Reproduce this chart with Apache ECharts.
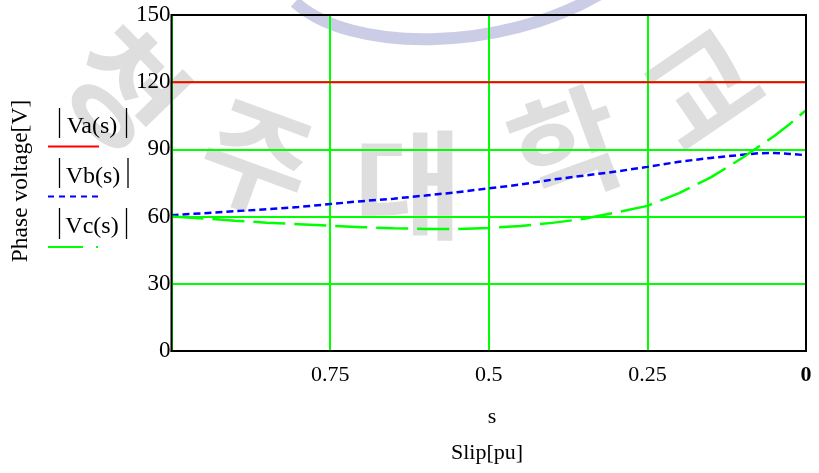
<!DOCTYPE html>
<html><head><meta charset="utf-8">
<script src="https://cdn.jsdelivr.net/npm/echarts@6/dist/echarts.min.js"></script>
<style>html,body{margin:0;padding:0;background:#fff}#c{width:819px;height:473px}</style>
</head><body><div id="c"></div>
<script>
const slip = [1, 0.95, 0.9, 0.85, 0.8, 0.75, 0.7, 0.65, 0.6, 0.55, 0.5, 0.45, 0.4, 0.35, 0.3, 0.25, 0.2, 0.15, 0.1, 0.075, 0.05, 0.025, 0];
const vaVals = [120,120,120,120,120,120,120,120,120,120,120,120,120,120,120,120,120,120,120,120,120,120,120];
const vbVals = [60.6, 61.5, 62.4, 63.3, 64.3, 65.6, 66.9, 68.0, 69.4, 70.9, 72.6, 74.3, 76.5, 78.3, 80.1, 82.2, 84.5, 86.2, 87.6, 88.3, 88.4, 88.0, 87.4];
const vcVals = [60.0, 59.2, 58.2, 57.3, 56.6, 55.9, 55.3, 54.8, 54.5, 54.5, 54.9, 55.8, 57.2, 59.0, 61.8, 64.8, 70.5, 77.5, 86.3, 91.2, 96.0, 101.5, 107.5];
const yTicks = [0, 30, 60, 90, 120, 150];
const xTicks = [1, 0.75, 0.5, 0.25, 0];
const seriesNames = ['Va(s)', 'Vb(s)', 'Vc(s)'];

const pairs = v => slip.map((s, i) => [s, v[i]]);
const serif = '"Liberation Serif", "DejaVu Serif", serif';
const green = '#00ff00';

const chart = echarts.init(document.getElementById('c'));
const wm = (t, x, y, r, s) => ({type:'text', x:x, y:y, rotation:r, z:-10, silent:true,
  style:{text:t, font:'bold '+s+'px "Noto Sans CJK KR"', fill:'rgba(0,0,0,0.13)', align:'center', verticalAlign:'middle'}});
const bar = (x, y1, y2) => ({type:'line', shape:{x1:x, y1:y1, x2:x, y2:y2}, z:5, style:{stroke:'#000', lineWidth:1.3}});
const lbl = (t, x, y) => ({type:'text', x:x, y:y, z:5, style:{text:t, font:'24px '+serif, fill:'#000', align:'center', verticalAlign:'middle'}});
chart.setOption({
  animation:false,
  backgroundColor:'#fff',
  grid:{left:171.5, right:13, top:15, bottom:122},
  xAxis:{type:'value', inverse:true, min:0, max:1, interval:0.25,
    axisLine:{show:true, lineStyle:{color:'#000', width:2}},
    axisTick:{show:false},
    splitLine:{show:true, lineStyle:{color:green, width:2}},
    axisLabel:{fontFamily:serif, fontSize:22, color:'#000', margin:13,
      formatter:v => v === 1 ? '' : (v === 0 ? '{b|0}' : String(v)),
      rich:{b:{fontFamily:serif, fontSize:22, fontWeight:'bold', color:'#000'}}}},
  yAxis:{type:'value', min:0, max:150, interval:30,
    axisLine:{show:true, lineStyle:{color:'#000', width:2}},
    axisTick:{show:false},
    splitLine:{show:true, lineStyle:{color:green, width:2}},
    axisLabel:{fontFamily:serif, fontSize:23, color:'#000', margin:1, padding:[11,0,0,0]}},
  series:[
    {name:seriesNames[0], type:'line', data:pairs(vaVals), showSymbol:false, z:3,
     lineStyle:{color:'#ff0000', width:2}},
    {name:seriesNames[1], type:'line', data:pairs(vbVals), showSymbol:false, z:3,
     lineStyle:{color:'#0000ff', width:2.5, type:[7,4]}},
    {name:seriesNames[2], type:'line', data:pairs(vcVals), showSymbol:false, z:3,
     lineStyle:{color:green, width:2.5, type:[32,9]}}
  ],
  graphic:[
    {type:'bezierCurve', z:-10, silent:true,
     shape:{x1:295, y1:2, cpx1:350, cpy1:53, cpx2:500, cpy2:53, x2:600, y2:-6},
     style:{stroke:'rgba(130,135,195,0.42)', lineWidth:12, fill:'none'}},
    wm('청', 125, 88, -0.8, 120),
    wm('주', 257, 158, -0.35, 118),
    wm('대', 408, 185, 0, 118),
    wm('학', 567, 147, 0.35, 118),
    wm('교', 702, 88, 0.6, 118),
    {type:'rect', shape:{x:171.5, y:15, width:634.5, height:336}, z:5, silent:true,
     style:{fill:'none', stroke:'#000', lineWidth:2}},
    {type:'text', x:21, y:181, rotation:Math.PI/2, z:5,
     style:{text:'Phase voltage[V]', font:'23.5px '+serif, fill:'#000', align:'center', verticalAlign:'middle'}},
    bar(59.5, 108, 138), bar(126.5, 108, 138), lbl(seriesNames[0], 92, 127),
    {type:'line', shape:{x1:48, y1:146.5, x2:99, y2:146.5}, z:5, style:{stroke:'#ff0000', lineWidth:2}},
    bar(59.5, 158, 188), bar(128, 158, 188), lbl(seriesNames[1], 93, 177),
    {type:'line', shape:{x1:48, y1:196.5, x2:99, y2:196.5}, z:5, style:{stroke:'#0000ff', lineWidth:2, lineDash:[6,5]}},
    bar(59.5, 208, 239), bar(126.5, 208, 239), lbl(seriesNames[2], 92, 227),
    {type:'line', shape:{x1:48, y1:247, x2:100, y2:247}, z:5, style:{stroke:green, lineWidth:2, lineDash:[35,13,2,10]}},
    {type:'text', x:492, y:417, z:5, style:{text:'s', font:'22px '+serif, fill:'#000', align:'center', verticalAlign:'middle'}},
    {type:'text', x:487, y:453, z:5, style:{text:'Slip[pu]', font:'22px '+serif, fill:'#000', align:'center', verticalAlign:'middle'}}
  ]
});
</script></body></html>
